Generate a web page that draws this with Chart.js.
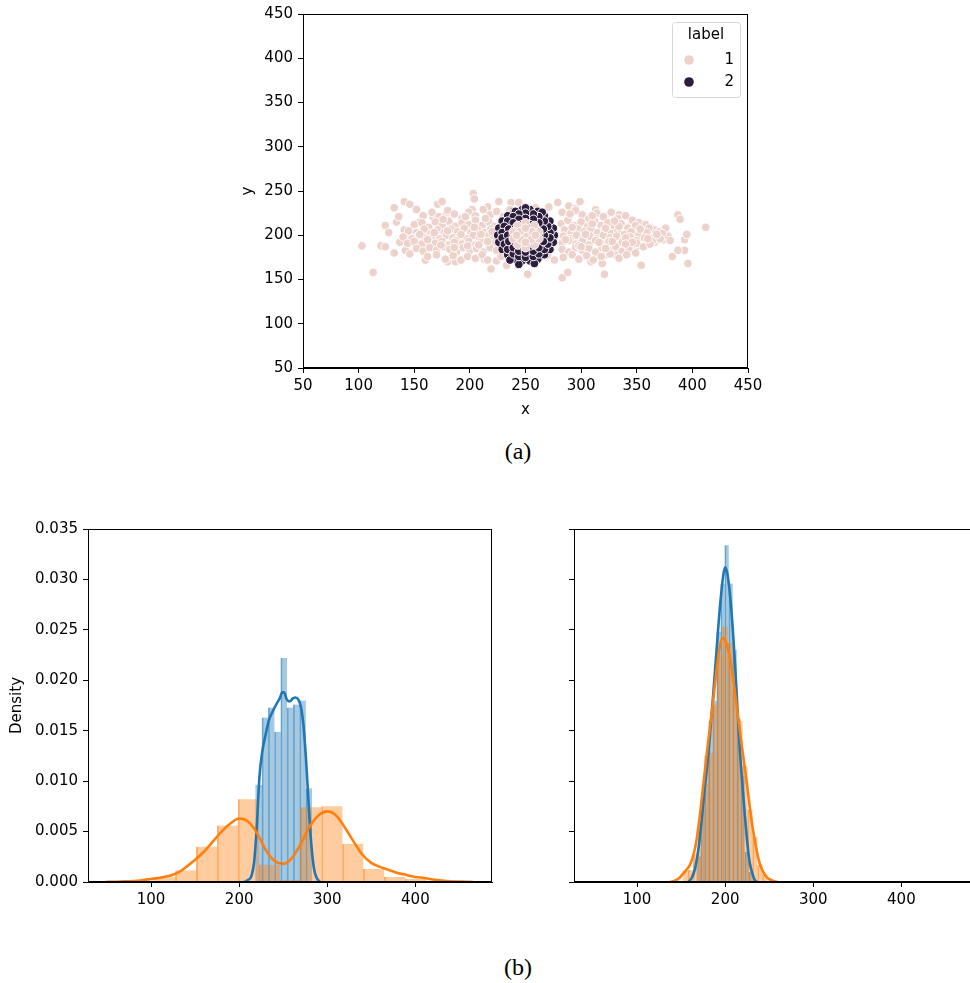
<!DOCTYPE html>
<html>
<head>
<meta charset="utf-8">
<script src="https://cdn.jsdelivr.net/npm/chart.js@4.4.1/dist/chart.umd.min.js"></script>
<style>
html, body { margin: 0; padding: 0; background: #fff; overflow: hidden; width: 970px; height: 983px; }
.box { position: absolute; }
.cap { position: absolute; font-family: "Liberation Serif", "Times New Roman", serif; font-size: 24px; color: #000; transform: translate(-50%, -50%); white-space: nowrap; }
</style>
</head>
<body>
<div class="box" style="left:228px;top:0;width:540px;height:425px"><canvas id="scatter" width="540" height="425"></canvas></div>
<div class="cap" style="left:518px;top:451px">(a)</div>
<div class="box" style="left:0;top:500px;width:505px;height:430px"><canvas id="histX" width="505" height="430"></canvas></div>
<div class="box" style="left:500px;top:500px;width:490px;height:430px"><canvas id="histY" width="490" height="430"></canvas></div>
<div class="cap" style="left:518px;top:967px">(b)</div>
<script>
// ---- (a) scatter data ----
const hueLabels = ['1', '2'];
const hueColors = ['#edd1cb', '#2d1e3e'];
const scatterTicks = [50, 100, 150, 200, 250, 300, 350, 400, 450];

const label1Points = [
  // sparse outer points
  [103,188],[113,158],[120,188],[124,187],[124,211],[127,203],[132,231],[132,180],[134,215],[136,221],
  [137,192],[141,238],[141,206],[142,183],[146,235],[145,200],[146,179],[148,192],[152,229],[154,196],
  [155,215],[156,185],[160,172],[159,210],[167,220],[171,235],[175,238],[180,170],[187,170],[179,225],
  [182,210],[203,247],[204,241],[202,229],[216,232],[213,173],[219,162],[226,238],[224,171],[233,166],
  [237,237],[244,237],[252,156],[259,231],[271,232],[279,237],[283,152],[288,158],[289,233],[295,230],
  [299,238],[309,170],[313,229],[319,168],[321,156],[322,178],[326,225],[334,223],[331,178],[344,210],
  [350,187],[354,166],[355,210],[362,209],[366,192],[376,208],[382,176],[387,223],[389,218],[393,183],
  [393,195],[395,201],[396,168],[387,183],[412,209],[374,195],[369,202],
  // dense band
  [158,222],[166,226],[172,221],[180,228],[186,224],[193,219],[199,226],[205,222],[212,229],[218,223],
  [224,227],[230,221],[236,229],[283,226],[289,221],[295,228],[301,223],[307,219],[314,225],[320,221],
  [327,226],[333,219],[340,222],[346,217],[352,214],[358,212],[366,206],
  [150,212],[157,214],[163,209],[169,215],[175,211],[181,216],[187,210],[193,214],[199,212],[205,217],
  [211,211],[217,215],[222,210],[282,213],[288,217],[294,211],[300,215],[306,210],[312,216],[318,211],
  [324,214],[330,209],[336,213],[342,208],[349,211],[355,205],[361,208],[370,204],[378,199],
  [145,205],[152,203],[159,207],[165,202],[171,206],[177,203],[183,207],[189,204],[195,208],[201,203],
  [207,206],[213,203],[219,207],[285,206],[291,203],[297,207],[303,204],[309,208],[315,203],[321,206],
  [327,202],[333,205],[339,201],[345,204],[352,200],[359,203],[366,198],[373,202],
  [140,198],[148,196],[154,200],[160,197],[167,199],[173,196],[179,200],[185,197],[191,199],[197,196],
  [203,200],[209,197],[215,199],[221,196],[284,199],[290,196],[296,200],[302,197],[308,199],[314,196],
  [320,200],[326,197],[332,199],[338,195],[344,198],[350,194],[357,197],[364,193],[371,196],[380,194],
  [144,191],[150,193],[157,190],[163,194],[169,191],[175,193],[181,189],[187,194],[193,190],[199,193],
  [205,189],[211,194],[217,190],[223,192],[283,191],[289,194],[295,190],[301,193],[307,189],[313,194],
  [319,190],[325,193],[331,189],[337,192],[343,188],[350,191],[356,187],[362,190],
  [152,185],[158,182],[164,186],[170,183],[176,187],[182,184],[188,181],[194,186],[200,183],[206,185],
  [212,181],[218,186],[224,183],[283,184],[289,181],[295,186],[301,183],[307,185],[313,181],[319,186],
  [325,183],[331,187],[337,182],[343,185],[349,180],
  [162,176],[170,178],[178,173],[185,177],[192,172],[198,176],[205,174],[211,178],[216,172],[228,176],
  [238,174],[262,173],[270,177],[276,172],[284,175],[292,178],[298,173],[305,177],[311,172],[318,176],
  [326,179],[334,174],[341,178],
  // extra band fill
  [155,201],[162,195],[168,203],[174,189],[180,205],[186,192],[192,201],[198,188],[204,209],[210,201],
  [216,193],[220,204],[286,195],[292,209],[298,188],[304,201],[310,213],[316,192],[322,208],[328,193],
  [334,210],[340,197],[346,192],[353,207],[360,196],[368,201],
  [176,218],[196,221],[214,219],[290,224],[310,222],[330,216],[186,186],[208,189],[300,187],[322,185],
  [340,190]
];

// light points lying in the middle of the dark cluster
const label1CorePoints = [
  [262,204],[258,211],[250,214],[243,211],[239,204],[239,196],[243,189],[250,186],[258,189],[262,196],
  [250,200],[245,204],[256,204],[246,195],[255,195],[250,208],[250,192],[242,200],[259,200]
];

const label2Points = [
  // outer ring
  [276,200],[275,208],[272,216],[267,222],[261,227],[254,229],[247,229],[240,227],[234,222],[229,216],
  [226,208],[225,200],[226,192],[229,184],[234,178],[240,173],[247,171],[254,171],[261,173],[267,178],
  [272,184],[275,192],
  [250,231],[241,227],[265,226],[236,172],[258,168],[244,167],
  // second ring
  [272,203],[270,210],[267,216],[262,221],[257,224],[250,225],[244,224],[239,221],[234,216],[231,210],
  [229,203],[229,197],[231,190],[234,184],[239,179],[244,176],[250,175],[257,176],[262,179],[267,184],
  [270,190],[272,197],
  // third ring
  [267,200],[266,207],[262,214],[257,218],[250,219],[244,218],[239,214],[235,207],[234,200],[235,193],
  [239,186],[244,182],[250,181],[257,182],[262,186],[266,193],
  // inner ring
  [262,200],[259,208],[254,212],[247,212],[241,208],[239,200],[241,192],[247,188],[254,188],[259,192]
];

// ---- (b) histogram data: x (left) and y (right) ----
const densityTicks = [0, 0.005, 0.01, 0.015, 0.02, 0.025, 0.03, 0.035];
const histTicks = [100, 200, 300, 400];
const histMin = 28.4;
const histMax = 487;

const xBlueStart = 218.8, xBlueWidth = 7.11;
const xBlueHeights = [0.0096, 0.0163, 0.0173, 0.0149, 0.0222, 0.0173, 0.0176, 0.0180, 0.0093];
const xOrangeStart = 104, xOrangeWidth = 23.7;
const xOrangeHeights = [0.00045, 0.00115, 0.0035, 0.0056, 0.0082, 0.0017, 0.0002, 0.0074, 0.0075, 0.0038, 0.0013, 0.0005, 0.0003];
const xBlueKde = [
  [206,0],[210,0.0002],[214,0.0006],[217,0.0020],[220,0.0055],[223,0.0104],[226,0.0128],[230,0.0146],
  [234,0.0161],[238,0.0169],[242,0.0176],[246,0.0182],[249,0.0188],[251,0.0188],[254,0.0181],[257,0.0179],
  [261,0.0182],[264,0.0183],[267,0.0181],[270,0.0174],[273,0.0155],[276,0.0120],[279,0.0075],[282,0.0036],
  [285,0.0013],[288,0.0004],[292,0]
];
const xOrangeKde = [
  [48,0],[60,0.00003],[70,0.00006],[80,0.0001],[90,0.00018],[100,0.0003],[110,0.00042],[120,0.0006],
  [130,0.0009],[140,0.0015],[150,0.0022],[160,0.0030],[170,0.0040],[180,0.0050],[190,0.0058],[200,0.0063],
  [210,0.0060],[220,0.0049],[230,0.0032],[240,0.0021],[250,0.0018],[260,0.0024],[270,0.0038],[280,0.0055],
  [290,0.0066],[300,0.0070],[310,0.0066],[320,0.0054],[330,0.0040],[340,0.0027],[350,0.0019],[360,0.0015],
  [370,0.0012],[380,0.0009],[390,0.0007],[400,0.0005],[410,0.0004],[420,0.00025],[430,0.00015],[440,0.00008],
  [450,0.00004],[466,0]
];

const yBlueStart = 167.7, yBlueWidth = 4.55;
const yBlueHeights = [0.0025, 0.0082, 0.0125, 0.0160, 0.0180, 0.0248, 0.0296, 0.0334, 0.0296, 0.0230, 0.0162, 0.0105, 0.0030, 0.0010];
const yOrangeStart = 152.4, yOrangeWidth = 5.62;
const yOrangeHeights = [0.0011, 0.0012, 0.0028, 0.0060, 0.0097, 0.0128, 0.0176, 0.0225, 0.0253, 0.0237, 0.0192, 0.0160, 0.0115, 0.0072, 0.0045, 0.0017, 0.0008];
const yBlueKde = [
  [158,0],[162,0.0004],[166,0.0014],[171,0.0042],[176,0.0086],[182,0.0138],[188,0.0204],[194,0.0272],
  [198,0.0305],[200,0.0312],[203,0.0303],[207,0.0270],[212,0.0204],[216,0.0140],[222,0.0070],[227,0.0024],
  [233,0.0003],[236,0]
];
const yOrangeKde = [
  [137,0],[142,0.0001],[148,0.0004],[152,0.0008],[156,0.0012],[160,0.0017],[164,0.0027],[167,0.0039],
  [171,0.0064],[175,0.0095],[180,0.0134],[186,0.0177],[190,0.0208],[194,0.0234],[197,0.0242],[201,0.0238],
  [205,0.0224],[209,0.0202],[216,0.0154],[224,0.0102],[231,0.0055],[239,0.0019],[246,0.0006],[252,0.0002],
  [259,0]
];

// ---- helpers ----
const FONT = { family: 'DejaVu Sans', size: 15 };
const BLUE = '#1f77b4', ORANGE = '#ff7f0e';

function pts(list) { return list.map(p => ({ x: p[0], y: p[1] })); }
function bins(start, width, heights) {
  return heights.map((h, i) => ({ x: start + width * (i + 0.5), y: h }));
}
function fixedTicks(values) { return s => { s.ticks = values.map(v => ({ value: v })); }; }
function seam(c) { return c.dataIndex === 0 ? 0 : { left: 1, right: 0, top: 0, bottom: 0 }; }

function axisStyle() {
  return {
    grid: { display: true, offset: false, drawOnChartArea: false, drawTicks: true, tickLength: 5, color: '#000', lineWidth: 1 },
    border: { display: true, color: '#000', width: 1 },
  };
}

// box around the plot area (top and right spines)
const frame = {
  id: 'frame',
  afterDraw(chart) {
    const { ctx, chartArea: a } = chart;
    ctx.save();
    ctx.strokeStyle = '#000';
    ctx.lineWidth = 1;
    ctx.strokeRect(Math.round(a.left) + 0.5, Math.round(a.top) + 0.5, Math.round(a.right - a.left) - 1, Math.round(a.bottom - a.top) - 1);
    ctx.restore();
  }
};

// seaborn style legend inside the scatter
const hueLegend = {
  id: 'hueLegend',
  afterDraw(chart) {
    const { ctx, chartArea: a } = chart;
    const w = 68, h = 75;
    const x = Math.round(a.right) - w - 8, y = Math.round(a.top) + 8;
    ctx.save();
    ctx.beginPath();
    ctx.roundRect(x + 0.5, y + 0.5, w, h, 3);
    ctx.fillStyle = 'rgba(255,255,255,0.8)';
    ctx.fill();
    ctx.strokeStyle = '#d6d6d6';
    ctx.lineWidth = 1;
    ctx.stroke();
    ctx.font = '15px "DejaVu Sans"';
    ctx.fillStyle = '#000';
    ctx.textAlign = 'center';
    ctx.textBaseline = 'middle';
    ctx.fillText('label', x + w / 2, y + 13);
    hueLabels.forEach((lab, i) => {
      const cy = y + 38 + i * 22;
      ctx.beginPath();
      ctx.arc(x + 17, cy, 4.8, 0, Math.PI * 2);
      ctx.fillStyle = hueColors[i];
      ctx.fill();
      ctx.fillStyle = '#000';
      ctx.textAlign = 'right';
      ctx.fillText(lab, x + w - 6, cy);
    });
    ctx.restore();
  }
};

// ---- (a) scatter ----
const dot = { borderColor: '#fff', borderWidth: 1, pointRadius: 4.3 };
new Chart(document.getElementById('scatter'), {
  type: 'scatter',
  data: {
    datasets: [
      { label: hueLabels[0], data: pts(label1Points), backgroundColor: hueColors[0], ...dot, order: 2 },
      { label: hueLabels[1], data: pts(label2Points), backgroundColor: hueColors[1], ...dot, order: 1 },
      { label: hueLabels[0], data: pts(label1CorePoints), backgroundColor: hueColors[0], ...dot, order: 0 }
    ]
  },
  options: {
    responsive: false, animation: false, devicePixelRatio: 1,
    layout: { padding: { left: 0, top: 14, right: 20, bottom: 0 } },
    plugins: { legend: { display: false }, tooltip: { enabled: false } },
    scales: {
      x: {
        type: 'linear', min: 50, max: 450, ...axisStyle(),
        afterBuildTicks: fixedTicks(scatterTicks),
        afterFit: s => { s.height = 57; },
        ticks: { color: '#000', font: FONT, padding: 4, maxRotation: 0, autoSkip: false },
        title: { display: true, text: 'x', color: '#000', font: FONT, padding: { top: 0, bottom: 6 } }
      },
      y: {
        type: 'linear', min: 50, max: 450, ...axisStyle(),
        afterBuildTicks: fixedTicks(scatterTicks),
        afterFit: s => { s.width = 75; },
        ticks: { color: '#000', font: FONT, padding: 5, autoSkip: false },
        title: { display: true, text: 'y', color: '#000', font: FONT, padding: { top: 11, bottom: 0 } }
      }
    }
  },
  plugins: [frame, hueLegend]
});

// ---- (b) histograms with kde ----
function histChart(id, yWidth, padRight, showYLabels, blueStart, blueWidth, blueHeights, blueKde, orangeStart, orangeWidth, orangeHeights, orangeKde) {
  return new Chart(document.getElementById(id), {
    type: 'bar',
    data: {
      datasets: [
        { type: 'bar', data: bins(blueStart, blueWidth, blueHeights), xAxisID: 'x', grouped: false,
          backgroundColor: 'rgba(31,119,180,0.4)', borderColor: 'rgba(31,119,180,0.6)', borderWidth: seam,
          barPercentage: 1, categoryPercentage: 1, order: 4 },
        { type: 'bar', data: bins(orangeStart, orangeWidth, orangeHeights), xAxisID: 'xo', grouped: false,
          backgroundColor: 'rgba(255,127,14,0.4)', borderColor: 'rgba(255,127,14,0.6)', borderWidth: seam,
          barPercentage: 1, categoryPercentage: 1, order: 3 },
        { type: 'line', data: pts(blueKde), xAxisID: 'x', borderColor: BLUE, borderWidth: 2.6,
          pointRadius: 0, cubicInterpolationMode: 'monotone', fill: false, order: 2 },
        { type: 'line', data: pts(orangeKde), xAxisID: 'x', borderColor: ORANGE, borderWidth: 2.6,
          pointRadius: 0, cubicInterpolationMode: 'monotone', fill: false, order: 1 }
      ]
    },
    options: {
      responsive: false, animation: false, devicePixelRatio: 1,
      layout: { padding: { left: 0, top: 29, right: padRight, bottom: 0 } },
      plugins: { legend: { display: false }, tooltip: { enabled: false } },
      scales: {
        x: {
          type: 'linear', min: histMin, max: histMax, offset: false, ...axisStyle(),
          afterBuildTicks: fixedTicks(histTicks),
          afterFit: s => { s.height = 48; },
          ticks: { color: '#000', font: FONT, padding: 4, maxRotation: 0, autoSkip: false }
        },
        xo: { type: 'linear', min: histMin, max: histMax, offset: false, display: false },
        y: {
          type: 'linear', min: 0, max: 0.035, ...axisStyle(),
          afterBuildTicks: fixedTicks(densityTicks),
          afterFit: s => { s.width = yWidth; },
          ticks: { display: showYLabels, color: '#000', font: FONT, padding: 5, autoSkip: false, callback: v => v.toFixed(3) },
          title: { display: showYLabels, text: 'Density', color: '#000', font: FONT, padding: { top: 8, bottom: 0 } }
        }
      }
    },
    plugins: [frame]
  });
}

histChart('histX', 88, 13, true, xBlueStart, xBlueWidth, xBlueHeights, xBlueKde, xOrangeStart, xOrangeWidth, xOrangeHeights, xOrangeKde);
histChart('histY', 74, 12, false, yBlueStart, yBlueWidth, yBlueHeights, yBlueKde, yOrangeStart, yOrangeWidth, yOrangeHeights, yOrangeKde);
</script>
</body>
</html>
